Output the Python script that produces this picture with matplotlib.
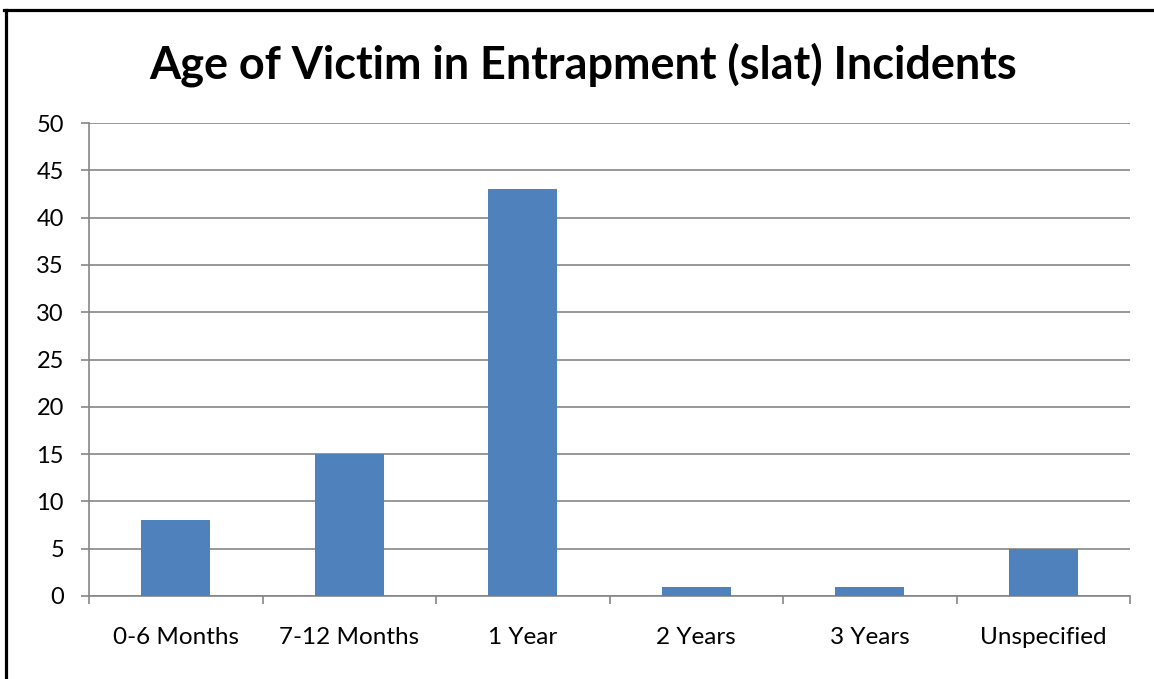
import matplotlib
matplotlib.use("Agg")
import matplotlib.pyplot as plt
from matplotlib.lines import Line2D
import numpy as np

categories = ["0-6 Months", "7-12 Months", "1 Year", "2 Years", "3 Years", "Unspecified"]
counts = [8, 15, 43, 1, 1, 5]
y_ticks = [0, 5, 10, 15, 20, 25, 30, 35, 40, 45, 50]

W, H = 1154, 679
plt.rcParams['font.family'] = ['Lato', 'DejaVu Sans']

fig = plt.figure(figsize=(W / 100, H / 100), dpi=100)
ax = fig.add_axes([89 / W, (H - 596) / H, (1130 - 89) / W, (596 - 123) / H])

x = np.arange(len(categories))
ax.bar(x, counts, width=0.4, color="#4F81BD", zorder=3)

ax.set_xlim(-0.5, len(categories) - 0.5)
ax.set_ylim(0, 50)
ax.set_yticks(y_ticks)
ax.yaxis.grid(True, color="#868686", linewidth=1.2, zorder=0)

ax.set_xticks(x)
ax.set_xticklabels(categories, fontsize=17.5)
ax.set_xticks(np.arange(-0.5, len(categories)), minor=True)
ax.tick_params(axis="x", which="major", length=0, pad=22)
ax.tick_params(axis="x", which="minor", length=6, width=1.2, color="#868686")
ax.tick_params(axis="y", length=6, width=1.2, color="#868686", pad=12, labelsize=17)

for s in ["top", "right"]:
    ax.spines[s].set_visible(False)
for s in ["left", "bottom"]:
    ax.spines[s].set_color("#868686")
    ax.spines[s].set_linewidth(1.2)

fig.text(583 / W, 1 - 65 / H, "Age of Victim in Entrapment (slat) Incidents",
         ha="center", va="center", fontsize=32.4, fontweight="bold")

# frame on left and top edges
fig.add_artist(Line2D([5.5 / W, 5.5 / W], [0, 1 - 9.5 / H], color="black", linewidth=2.3,
                      transform=fig.transFigure))
fig.add_artist(Line2D([4 / W, 1], [1 - 9.5 / H, 1 - 9.5 / H], color="black", linewidth=2.3,
                      transform=fig.transFigure))

fig.savefig("out.png", dpi=100)
